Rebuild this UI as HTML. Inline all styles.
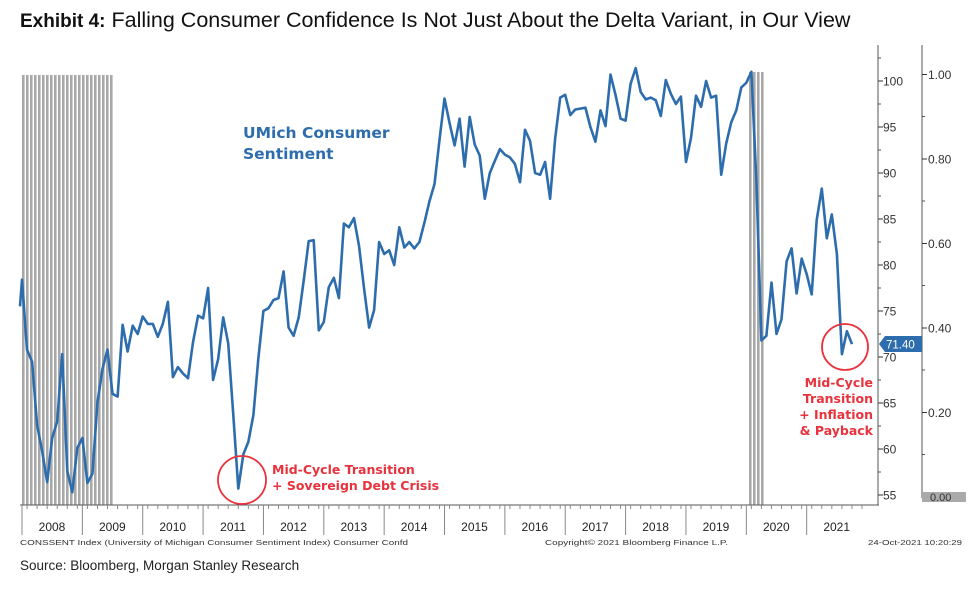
<!DOCTYPE html>
<html><head><meta charset="utf-8">
<style>
body{margin:0;background:#fff;width:978px;height:590px;overflow:hidden;font-family:"Liberation Sans",sans-serif}
svg{position:absolute;left:0;top:0}
</style></head>
<body>
<svg width="978" height="590">
<text x="20" y="27" fill="#111"><tspan font-weight="bold" font-size="19">Exhibit 4:</tspan><tspan font-size="21.5"> Falling Consumer Confidence Is Not Just About the Delta Variant, in Our View</tspan></text>
<g id="shade"></g>
<g id="axes"></g>
<path id="line" fill="none" stroke="#2e6dad" stroke-width="2.6" stroke-linejoin="round"/>
<g font-family="'DejaVu Sans',sans-serif" font-size="15.5" font-weight="bold" fill="#2e6dad">
<text x="243" y="138">UMich Consumer</text>
<text x="243" y="159">Sentiment</text></g>
<circle cx="242" cy="480" r="24" fill="none" stroke="#e8323c" stroke-width="1.8"/>
<g font-family="'DejaVu Sans',sans-serif" font-size="12.5" font-weight="bold" fill="#e8323c">
<text x="272" y="474">Mid-Cycle Transition</text>
<text x="272" y="490">+ Sovereign Debt Crisis</text></g>
<circle cx="845" cy="347" r="23" fill="none" stroke="#e8323c" stroke-width="1.8"/>
<g font-family="'DejaVu Sans',sans-serif" font-size="12.5" font-weight="bold" fill="#e8323c" text-anchor="end">
<text x="873" y="387">Mid-Cycle</text><text x="873" y="403">Transition</text><text x="873" y="419">+ Inflation</text><text x="873" y="435">&amp; Payback</text></g>
<path d="M879,344 L885,336 L922,336 L922,352 L885,352 Z" fill="#2e6dad"/>
<text x="886" y="348.5" font-size="11.5" fill="#fff">71.40</text>
<text x="20" y="545" font-size="7.5" fill="#333" textLength="388" lengthAdjust="spacingAndGlyphs">CONSSENT Index (University of Michigan Consumer Sentiment Index) Consumer Confd</text>
<text x="545" y="545" font-size="7.5" fill="#333" textLength="183" lengthAdjust="spacingAndGlyphs">Copyright© 2021 Bloomberg Finance L.P.</text>
<text x="868" y="545" font-size="7.5" fill="#333" textLength="94" lengthAdjust="spacingAndGlyphs">24-Oct-2021 10:20:29</text>
<text x="20" y="570" font-size="13.5" fill="#222">Source: Bloomberg, Morgan Stanley Research</text>
</svg>
<script>
const years=[2008,2009,2010,2011,2012,2013,2014,2015,2016,2017,2018,2019,2020,2021];
const startValue=[75.5];
const sentiment=[
78.4,70.8,69.5,62.6,59.8,56.4,61.2,63.0,70.3,57.6,55.3,60.1,
61.2,56.3,57.3,65.1,68.7,70.8,66.0,65.7,73.5,70.6,73.4,72.5,
74.4,73.6,73.6,72.2,73.6,76.0,67.8,68.9,68.2,67.7,71.6,74.5,
74.2,77.5,67.5,69.8,74.3,71.5,63.7,55.7,59.4,60.8,63.7,69.9,
75.0,75.3,76.2,76.4,79.3,73.2,72.3,74.3,78.3,82.6,82.7,72.9,
73.8,77.6,78.6,76.4,84.5,84.1,85.1,82.1,77.5,73.2,75.1,82.5,
81.2,81.6,80.0,84.1,81.9,82.5,81.8,82.5,84.6,86.9,88.8,93.6,
98.1,95.4,93.0,95.9,90.7,96.1,93.1,91.9,87.2,90.0,91.3,92.6,
92.0,91.7,91.0,89.0,94.7,93.5,90.0,89.8,91.2,87.2,93.8,98.2,
98.5,96.3,96.9,97.0,97.1,95.0,93.4,96.8,95.1,100.7,98.5,95.9,
95.7,99.7,101.4,98.8,98.0,98.2,97.9,96.2,100.1,98.6,97.5,98.3,
91.2,93.8,98.4,97.2,100.0,98.2,98.4,89.8,93.2,95.5,96.8,99.3,
99.8,101.0,89.1,71.8,72.3,78.1,72.5,74.1,80.4,81.8,76.9,80.7,
79.0,76.8,84.9,88.3,82.9,85.5,81.2,70.3,72.8,71.4];
const leftTicks=[55,60,65,70,75,80,85,90,95,100];
const rightTicks=["0.00","0.20","0.40","0.60","0.80","1.00"];
const recessions=[[0,18]];
const X=i=>22+i*5.03;
const Y=v=>81+(100-v)*9.2;
const NS='http://www.w3.org/2000/svg';
function mk(tag,attrs,parent){const e=document.createElementNS(NS,tag);for(const k in attrs)e.setAttribute(k,attrs[k]);parent.appendChild(e);return e;}
const shade=document.getElementById('shade'),axes=document.getElementById('axes');
recessions.forEach(r=>{
  for(let x=X(r[0]);x<X(r[1]);x+=4){
    const s=mk('rect',{x:x,y:75,width:2.6,height:430,fill:'#a8a8a8'},shade);
    
    
  }
});
for(let x=749;x<763;x+=4){const s=mk('rect',{x:x,y:72,width:2.6,height:433,fill:'#a8a8a8'},shade);

}
const all=startValue.concat(sentiment);
let d='';all.forEach((v,i)=>{d+=(i?'L':'M')+Math.max(20,X(i-1)).toFixed(1)+','+Y(v).toFixed(1);});
document.getElementById('line').setAttribute('d',d);
mk('line',{x1:20,y1:505,x2:879,y2:505,stroke:'#555','stroke-width':1},axes);
mk('line',{x1:878,y1:45,x2:878,y2:505,stroke:'#555','stroke-width':1},axes);
mk('line',{x1:922,y1:45,x2:922,y2:498,stroke:'#555','stroke-width':1},axes);
mk('rect',{x:922,y:492,width:44,height:10,fill:'#aaa'},axes);
const z=mk('text',{x:930,y:501,'font-size':11,fill:'#333'},axes);z.textContent='0.00';
leftTicks.forEach(v=>{
  mk('line',{x1:878,y1:Y(v),x2:883,y2:Y(v),stroke:'#333'},axes);
  mk('line',{x1:878,y1:Y(v+2.5),x2:881,y2:Y(v+2.5),stroke:'#555'},axes);
  const t=mk('text',{x:883,y:Y(v)+4.5,'font-size':12,fill:'#333'},axes);t.textContent=v;
  
  
});
rightTicks.forEach((s,i)=>{
  const y=497-i*84.5;
  if(i>0){mk('line',{x1:922,y1:y,x2:927,y2:y,stroke:'#333'},axes);
  const t=mk('text',{x:928,y:y+4.5,'font-size':12,fill:'#333'},axes);t.textContent=s;
  
  
  mk('line',{x1:922,y1:y+42,x2:925,y2:y+42,stroke:'#555'},axes);}
});
years.forEach((yr,i)=>{
  const x=X(i*12);
  mk('line',{x1:x,y1:505,x2:x,y2:535,stroke:'#888'},axes);
  for(let m=1;m<12;m+=2)mk('line',{x1:X(i*12+m),y1:505,x2:X(i*12+m),y2:509,stroke:'#888'},axes);
  const t=mk('text',{x:x+30,y:531,'font-size':12,'text-anchor':'middle',fill:'#222'},axes);t.textContent=yr;
  
  
});
</script>
</body></html>
